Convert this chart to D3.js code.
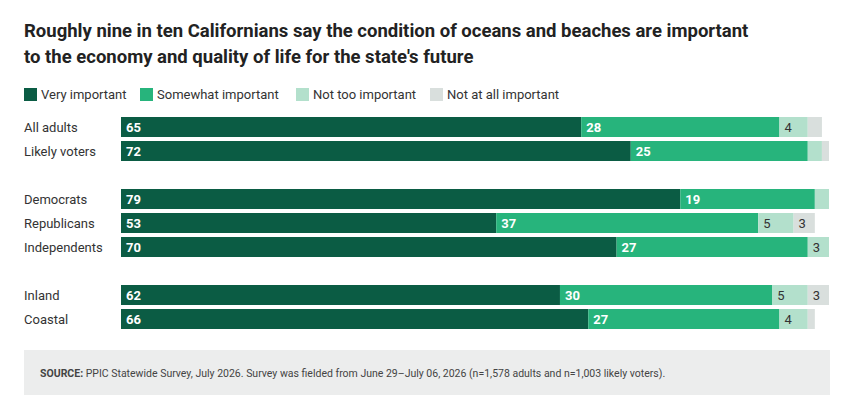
<!DOCTYPE html>
<html><head><meta charset="utf-8">
<script src="https://cdn.jsdelivr.net/npm/d3@7"></script>
<style>
body{margin:0;background:#fff;font-family:Roboto,"Open Sans",sans-serif;}
</style></head>
<body><div id="chart"></div>
<script>
var groups = ["All adults", "Likely voters", "Democrats", "Republicans", "Independents", "Inland", "Coastal"];
var rowY = [127, 151, 199, 223, 247, 295, 319];
var keys = ["Very important", "Somewhat important", "Not too important", "Not at all important"];
var veryImp = [65, 72, 79, 53, 70, 62, 66];
var somewhatImp = [28, 25, 19, 37, 27, 30, 27];
var notTooImp = [4, 2, 2, 5, 3, 5, 4];
var notAtAll = [2, 1, 0, 3, 0, 3, 1];
var colors = ["#0b5c44", "#27b47c", "#b3e0cc", "#d9dfdd"];

var svgWidth = 843, svgHeight = 415;
var svg = d3.select("#chart").append("svg").attr("width", svgWidth).attr("height", svgHeight);

svg.append("text").attr("x", 24).attr("y", 37).attr("font-size", 18.5).attr("font-weight", "bold").attr("fill", "#222")
    .text("Roughly nine in ten Californians say the condition of oceans and beaches are important");
svg.append("text").attr("x", 24).attr("y", 63).attr("font-size", 18.5).attr("font-weight", "bold").attr("fill", "#222")
    .text("to the economy and quality of life for the state's future");

// legend
var legX = [24, 140, 296, 430];
keys.forEach(function(k, i) {
    svg.append("rect").attr("x", legX[i]).attr("y", 88).attr("width", 13).attr("height", 13).attr("fill", colors[i]);
    svg.append("text").attr("x", legX[i] + 17).attr("y", 99).attr("font-size", 13).attr("fill", "#333").text(k);
});

var x = d3.scaleLinear().domain([0, 100]).range([121, 829]);
var series = [veryImp, somewhatImp, notTooImp, notAtAll];

groups.forEach(function(g, i) {
    svg.append("text").attr("x", 24).attr("y", rowY[i] + 5).attr("font-size", 13).attr("fill", "#333").text(g);
    var cum = 0;
    series.forEach(function(s, j) {
        var v = s[i];
        if (v > 0) {
            svg.append("rect").attr("x", x(cum)).attr("y", rowY[i] - 10)
                .attr("width", x(cum + v) - x(cum)).attr("height", 20).attr("fill", colors[j]);
            if (v >= 3) {
                svg.append("text").attr("x", x(cum) + 5).attr("y", rowY[i] + 5)
                    .attr("font-size", 13).attr("font-weight", j < 2 ? "bold" : "normal")
                    .attr("fill", j < 2 ? "#fff" : "#333").text(v);
            }
        }
        cum += v;
    });
});

svg.append("rect").attr("x", 24).attr("y", 350).attr("width", 806).attr("height", 45).attr("fill", "#eceded");
var src = svg.append("text").attr("x", 40).attr("y", 377).attr("font-size", 10.5).attr("fill", "#444");
src.append("tspan").attr("font-weight", "bold").text("SOURCE:");
src.append("tspan").text(" PPIC Statewide Survey, July 2026. Survey was fielded from June 29–July 06, 2026 (n=1,578 adults and n=1,003 likely voters).");
</script></body></html>
